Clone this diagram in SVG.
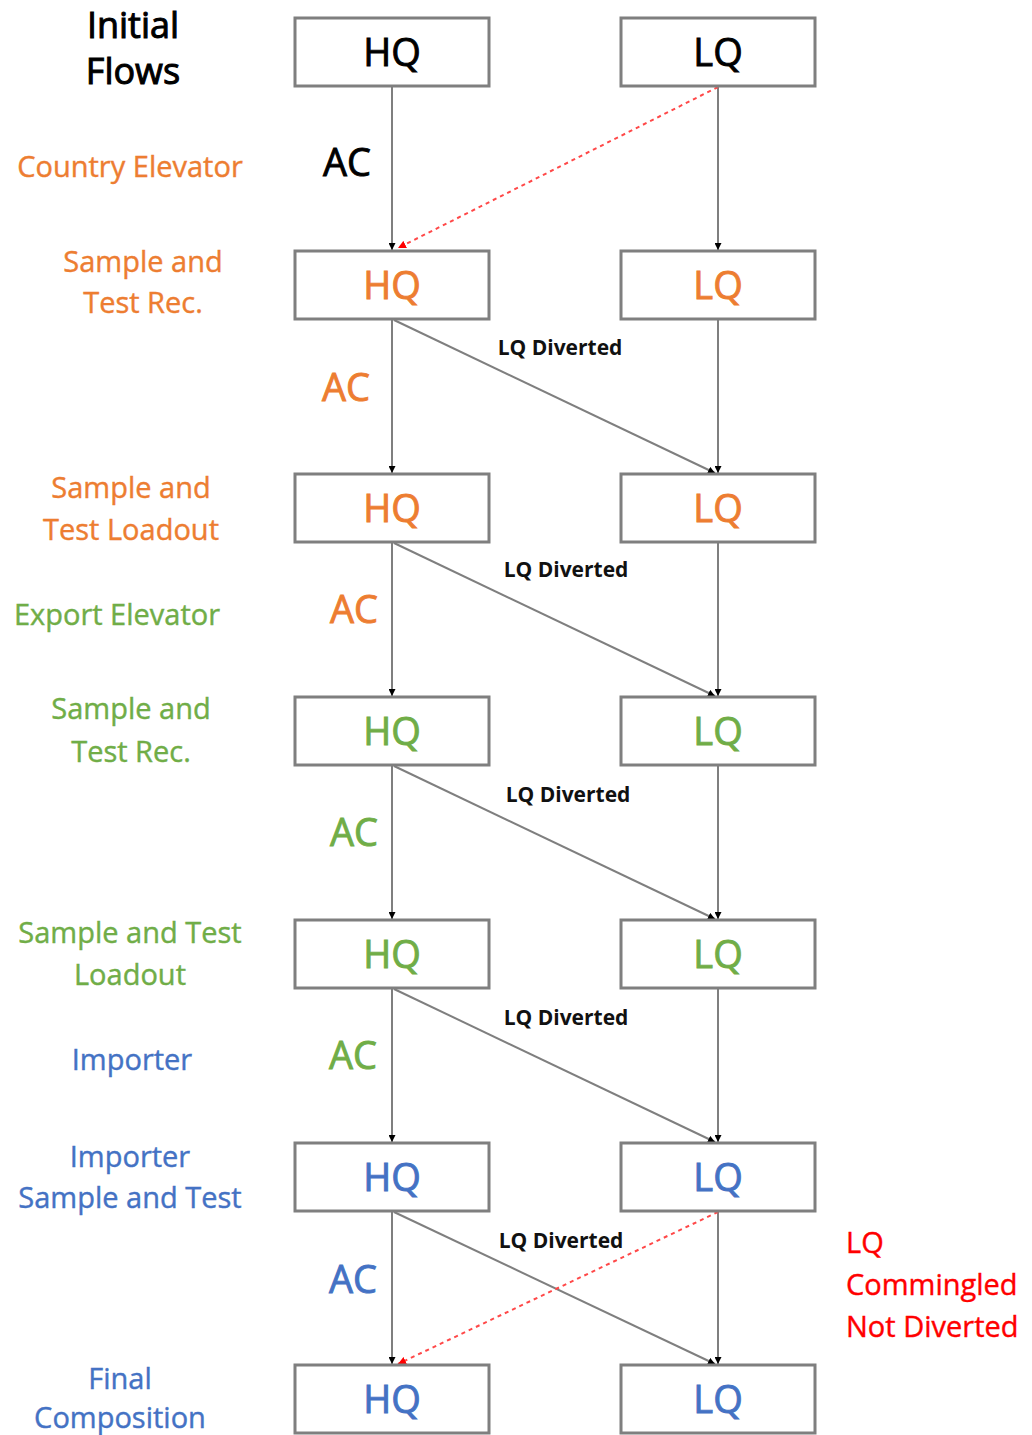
<svg xmlns="http://www.w3.org/2000/svg" width="1032" height="1435" viewBox="0 0 1032 1435">
<style>
text{font-family:"Open Sans","Liberation Sans",sans-serif}
.box{fill:#fff;stroke:#7f7f7f;stroke-width:3}
.bt{font-size:38px;text-anchor:middle;stroke-width:0.9px}
.lab{font-size:29px;text-anchor:middle;stroke-width:0.4px}
.ac{font-size:38px;text-anchor:middle;stroke-width:0.9px}
.div{font-size:21px;font-weight:700;text-anchor:middle;fill:#111}
.ln{stroke:#7f7f7f;stroke-width:2;fill:none;marker-end:url(#ah)}
.red{stroke:#ff4848;stroke-width:2;stroke-dasharray:4 4;fill:none;marker-end:url(#rh)}
.k{fill:#000;stroke:#000}.o{fill:#ed7d31;stroke:#ed7d31}.g{fill:#70ad47;stroke:#70ad47}.b{fill:#4472c4;stroke:#4472c4}.r{fill:#ff0000;stroke:#ff0000;stroke-width:0.4px}
</style>
<defs>
<marker id="ah" viewBox="0 0 10 10" refX="10" refY="5" markerWidth="7" markerHeight="7" markerUnits="userSpaceOnUse" orient="auto"><path d="M0,0 L10,5 L0,10 z" fill="#000"/></marker>
<marker id="rh" viewBox="0 0 10 10" refX="10" refY="5" markerWidth="8" markerHeight="8" markerUnits="userSpaceOnUse" orient="auto"><path d="M0,0 L10,5 L0,10 z" fill="#ff0000"/></marker>
</defs>
<rect width="1032" height="1435" fill="#fff"/>

<g id="connectors">
<line class="ln" x1="392" y1="86" x2="392" y2="250"/>
<line class="ln" x1="718" y1="86" x2="718" y2="250"/>
<line class="red" x1="718" y1="87" x2="398" y2="248"/>
<line class="ln" x1="392" y1="319" x2="392" y2="473"/>
<line class="ln" x1="718" y1="319" x2="718" y2="473"/>
<line class="ln" x1="394" y1="320" x2="715" y2="473"/>
<line class="ln" x1="392" y1="542" x2="392" y2="696"/>
<line class="ln" x1="718" y1="542" x2="718" y2="696"/>
<line class="ln" x1="394" y1="543" x2="715" y2="696"/>
<line class="ln" x1="392" y1="765" x2="392" y2="919"/>
<line class="ln" x1="718" y1="765" x2="718" y2="919"/>
<line class="ln" x1="394" y1="766" x2="715" y2="919"/>
<line class="ln" x1="392" y1="988" x2="392" y2="1142"/>
<line class="ln" x1="718" y1="988" x2="718" y2="1142"/>
<line class="ln" x1="394" y1="989" x2="715" y2="1142"/>
<line class="ln" x1="392" y1="1211" x2="392" y2="1364"/>
<line class="ln" x1="718" y1="1211" x2="718" y2="1364"/>
<line class="ln" x1="394" y1="1212" x2="715" y2="1364"/>
<line class="red" x1="718" y1="1212" x2="398" y2="1364"/>
</g>

<g id="edge-labels">
<text class="ac k" x="347" y="176">AC</text>
<text class="ac o" x="346" y="401">AC</text>
<text class="ac o" x="354" y="623">AC</text>
<text class="ac g" x="354" y="846">AC</text>
<text class="ac g" x="353" y="1069">AC</text>
<text class="ac b" x="353" y="1293">AC</text>
<text class="div" x="560" y="355">LQ Diverted</text>
<text class="div" x="566" y="577">LQ Diverted</text>
<text class="div" x="568" y="802">LQ Diverted</text>
<text class="div" x="566" y="1025">LQ Diverted</text>
<text class="div" x="561" y="1248">LQ Diverted</text>
</g>

<g id="hq1"><rect class="box" x="295" y="18" width="194" height="68"/><text class="bt k" x="392" y="66">HQ</text></g>
<g id="lq1"><rect class="box" x="621" y="18" width="194" height="68"/><text class="bt k" x="718" y="66">LQ</text></g>
<g id="hq2"><rect class="box" x="295" y="251" width="194" height="68"/><text class="bt o" x="392" y="299">HQ</text></g>
<g id="lq2"><rect class="box" x="621" y="251" width="194" height="68"/><text class="bt o" x="718" y="299">LQ</text></g>
<g id="hq3"><rect class="box" x="295" y="474" width="194" height="68"/><text class="bt o" x="392" y="522">HQ</text></g>
<g id="lq3"><rect class="box" x="621" y="474" width="194" height="68"/><text class="bt o" x="718" y="522">LQ</text></g>
<g id="hq4"><rect class="box" x="295" y="697" width="194" height="68"/><text class="bt g" x="392" y="745">HQ</text></g>
<g id="lq4"><rect class="box" x="621" y="697" width="194" height="68"/><text class="bt g" x="718" y="745">LQ</text></g>
<g id="hq5"><rect class="box" x="295" y="920" width="194" height="68"/><text class="bt g" x="392" y="968">HQ</text></g>
<g id="lq5"><rect class="box" x="621" y="920" width="194" height="68"/><text class="bt g" x="718" y="968">LQ</text></g>
<g id="hq6"><rect class="box" x="295" y="1143" width="194" height="68"/><text class="bt b" x="392" y="1191">HQ</text></g>
<g id="lq6"><rect class="box" x="621" y="1143" width="194" height="68"/><text class="bt b" x="718" y="1191">LQ</text></g>
<g id="hq7"><rect class="box" x="295" y="1365" width="194" height="68"/><text class="bt b" x="392" y="1413">HQ</text></g>
<g id="lq7"><rect class="box" x="621" y="1365" width="194" height="68"/><text class="bt b" x="718" y="1413">LQ</text></g>

<g id="stage-labels">
<text class="lab k" x="133" y="38" style="font-size:36px;stroke-width:1px">Initial</text>
<text class="lab k" x="133" y="84" style="font-size:36px;stroke-width:1px">Flows</text>
<text class="lab o" x="130" y="177">Country  Elevator</text>
<text class="lab o" x="143" y="272">Sample and</text>
<text class="lab o" x="143" y="313">Test Rec.</text>
<text class="lab o" x="131" y="498">Sample and</text>
<text class="lab o" x="131" y="540">Test Loadout</text>
<text class="lab g" x="117" y="625">Export Elevator</text>
<text class="lab g" x="131" y="719">Sample and</text>
<text class="lab g" x="131" y="762">Test Rec.</text>
<text class="lab g" x="130" y="943">Sample and Test</text>
<text class="lab g" x="130" y="985">Loadout</text>
<text class="lab b" x="132" y="1070">Importer</text>
<text class="lab b" x="130" y="1167">Importer</text>
<text class="lab b" x="130" y="1208">Sample and Test</text>
<text class="lab b" x="120" y="1389">Final</text>
<text class="lab b" x="120" y="1428">Composition</text>
<text class="r" x="846" y="1253" style="font-size:29px">LQ</text>
<text class="r" x="846" y="1295" style="font-size:29px">Commingled</text>
<text class="r" x="846" y="1337" style="font-size:29px">Not Diverted</text>
</g>
</svg>
